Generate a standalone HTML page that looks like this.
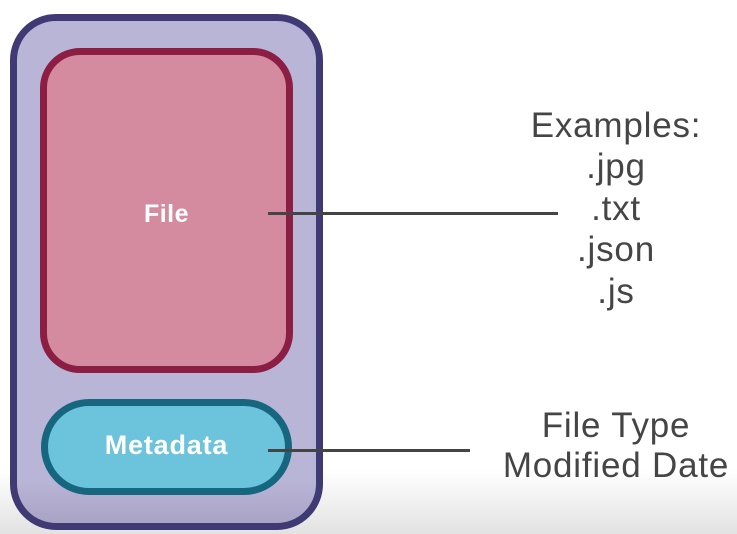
<!DOCTYPE html>
<html><head><style>
html,body{margin:0;padding:0;}
body{width:737px;height:534px;position:relative;overflow:hidden;background:linear-gradient(#fff 0,#fff 470px,#e2e2e2 534px);font-family:"Liberation Sans",sans-serif;}
.a{position:absolute;box-sizing:border-box;}
.t{position:absolute;color:#454545;font-size:35px;letter-spacing:0.8px;text-align:center;width:260px;left:486px;white-space:nowrap;}
</style></head><body>
<div class="a" style="left:10px;top:14px;width:313px;height:516px;border:7px solid #3f3a74;border-radius:46px;background:linear-gradient(#b9b5d7 0,#b9b5d7 460px,#a9a3c4 100%);"></div>
<div class="a" style="left:40px;top:48px;width:253px;height:325px;border:7px solid #8b1e42;border-radius:40px;background:#d48ba0;"></div>
<div class="a" style="left:41px;top:399px;width:251px;height:96px;border:7px solid #17667f;border-radius:48px;background:#6bc3dc;"></div>
<div class="a" style="left:40px;top:200px;width:253px;text-align:center;color:#fff;font-size:25px;font-weight:bold;letter-spacing:0.5px;">File</div>
<div class="a" style="left:41px;top:430px;width:251px;text-align:center;color:#fff;font-size:27px;font-weight:bold;letter-spacing:0.8px;">Metadata</div>
<div class="a" style="left:268px;top:212px;width:290px;height:3px;background:#444;"></div>
<div class="a" style="left:268px;top:449px;width:202px;height:3px;background:#444;"></div>
<div class="t" style="top:106px;">Examples:</div>
<div class="t" style="top:147px;">.jpg</div>
<div class="t" style="top:189px;">.txt</div>
<div class="t" style="top:230px;">.json</div>
<div class="t" style="top:272px;">.js</div>
<div class="t" style="top:406px;">File Type</div>
<div class="t" style="top:446px;">Modified Date</div>
</body></html>
